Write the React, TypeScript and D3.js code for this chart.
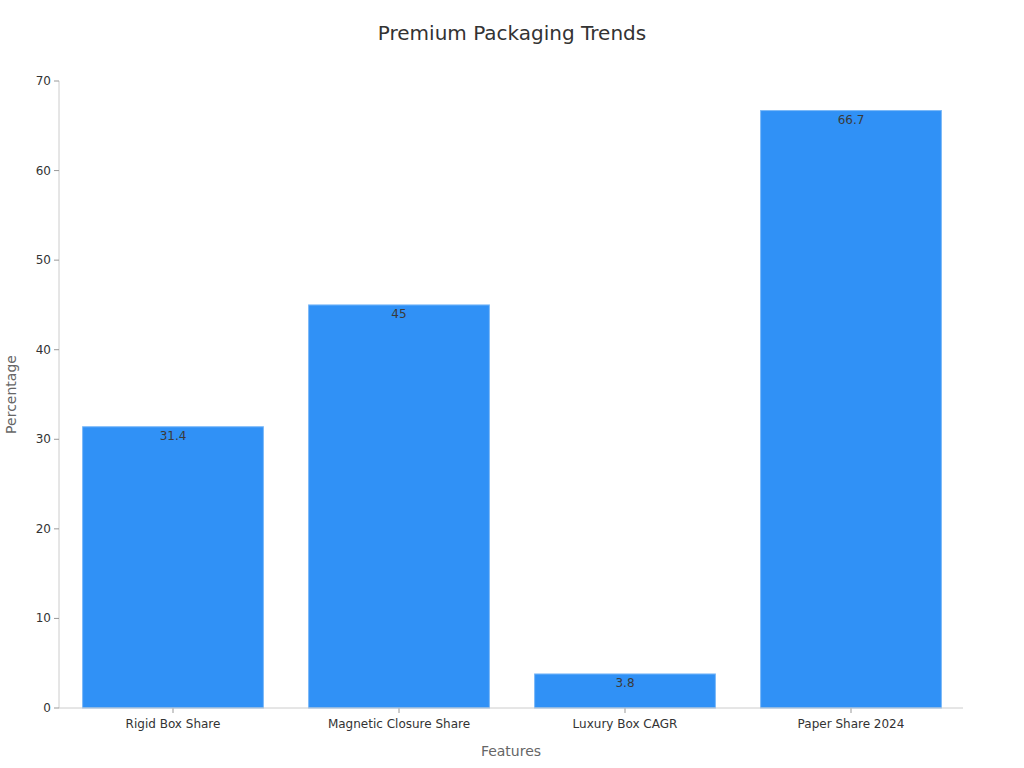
import React from "react";
import * as d3 from "d3";

const categories = ["Rigid Box Share", "Magnetic Closure Share", "Luxury Box CAGR", "Paper Share 2024"];
const values = [31.4, 45, 3.8, 66.7];
const yTicks = [0, 10, 20, 30, 40, 50, 60, 70];

export default function App() {
  const W = 1024, H = 768;
  const left = 59, right = 963, top = 81, bottom = 708;
  const x = d3.scaleBand<string>().domain(categories).range([left + 1, right + 1]).paddingInner(0.2).paddingOuter(0.1);
  const y = d3.scaleLinear().domain([0, 70]).range([bottom, top]);
  const font = "DejaVu Sans, sans-serif";
  return (
    <svg width={W} height={H} style={{ position: "absolute", left: 0, top: 0 }} fontFamily={font}>
      <rect width={W} height={H} fill="#fff" />
      <text x={512} y={40} textAnchor="middle" fontSize={20} fill="#333">Premium Packaging Trends</text>
      {categories.map((c, i) => (
        <g key={c}>
          <rect x={x(c)} y={y(values[i])} width={x.bandwidth()} height={bottom - y(values[i])} fill="#3091f6" stroke="#7ab8f8" strokeWidth={1} />
          <text x={(x(c) as number) + x.bandwidth() / 2} y={y(values[i]) + 13} textAnchor="middle" fontSize={12} fill="#3a3a3a">{values[i]}</text>
          <line x1={(x(c) as number) + x.bandwidth() / 2} x2={(x(c) as number) + x.bandwidth() / 2} y1={bottom} y2={bottom + 5} stroke="#999" />
          <text x={(x(c) as number) + x.bandwidth() / 2} y={bottom + 20} textAnchor="middle" fontSize={12} fill="#333">{c}</text>
        </g>
      ))}
      <line x1={left} x2={left} y1={top} y2={bottom} stroke="#ccc" />
      <line x1={left} x2={right} y1={bottom} y2={bottom} stroke="#ccc" />
      {yTicks.map((t) => (
        <g key={t}>
          <line x1={left - 5} x2={left} y1={y(t)} y2={y(t)} stroke="#999" />
          <text x={left - 8} y={y(t) + 4} textAnchor="end" fontSize={12} fill="#333">{t}</text>
        </g>
      ))}
      <text transform={`translate(16,${(top + bottom) / 2}) rotate(-90)`} textAnchor="middle" fontSize={14} fill="#666">Percentage</text>
      <text x={(left + right) / 2} y={756} textAnchor="middle" fontSize={14} fill="#666">Features</text>
    </svg>
  );
}
